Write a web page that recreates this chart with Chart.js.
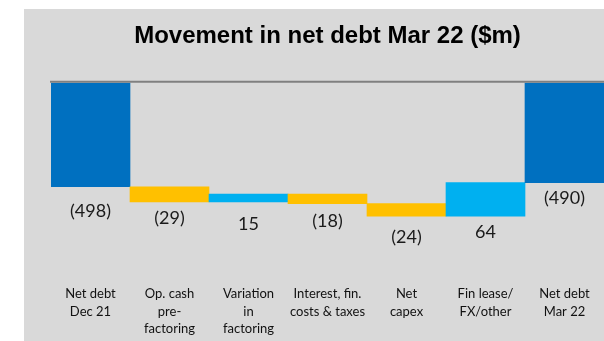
<!DOCTYPE html>
<html>
<head>
<meta charset="utf-8">
<script src="https://cdn.jsdelivr.net/npm/chart.js@4/dist/chart.umd.min.js"></script>
<style>
  html, body { margin: 0; padding: 0; background: #fff; }
  #wrap { width: 604px; height: 341px; }
</style>
</head>
<body>
<div id="wrap"><canvas id="chart" width="604" height="341"></canvas></div>
<script>
// categories (multi-line labels)
const categories = [
    ['Net debt', 'Dec 21'],
    ['Op. cash', 'pre-', 'factoring'],
    ['Variation', 'in', 'factoring'],
    ['Interest, fin.', 'costs & taxes'],
    ['Net', 'capex'],
    ['Fin lease/', 'FX/other'],
    ['Net debt', 'Mar 22']
];
// $m, cash view (negative = debt)
const openingDebt = -498;
const movements = [-29, 15, -18, -24, 64];
const closingDebt = -490;

// visible window of the (broken) value axis
const axisTop = -300;
const axisBottom = -680;

const COL_TOTAL = '#0070C0';
const COL_NEG = '#FFC000';
const COL_POS = '#00B0F0';

// build waterfall
const floats = [[0, openingDebt]];
const shown = [openingDebt];
const colors = [COL_TOTAL];
let running = openingDebt;
movements.forEach(m => {
    floats.push([running, running + m]);
    running += m;
    shown.push(m);
    colors.push(m < 0 ? COL_NEG : COL_POS);
});
floats.push([0, closingDebt]);
shown.push(closingDebt);
colors.push(COL_TOTAL);

// label distance below each bar's lower edge
const labelNudge = [24, 16, 22, 18, 21, 16, 16];

const fmt = v => v < 0 ? '(' + (-v) + ')' : String(v);

const panelBg = {
    id: 'panelBg',
    beforeDraw(chart) {
        const c = chart.ctx;
        c.save();
        c.fillStyle = '#ffffff';
        c.fillRect(0, 0, chart.width, chart.height);
        c.fillStyle = '#D9D9D9';
        c.fillRect(24, 9, chart.width - 24, chart.height - 9);
        c.restore();
    }
};

const topLineAndLabels = {
    id: 'topLineAndLabels',
    afterDatasetsDraw(chart) {
        const c = chart.ctx;
        const area = chart.chartArea;
        c.save();
        c.strokeStyle = '#808080';
        c.lineWidth = 2;
        c.beginPath();
        c.moveTo(area.left - 1, area.top - 1);
        c.lineTo(area.right, area.top - 1);
        c.stroke();

        c.fillStyle = '#1a1a1a';
        c.font = '18px Lato';
        c.textAlign = 'center';
        c.textBaseline = 'middle';
        chart.getDatasetMeta(0).data.forEach((bar, i) => {
            const lower = Math.max(bar.y, bar.base);
            c.fillText(fmt(shown[i]), bar.x, lower + labelNudge[i]);
        });
        c.restore();
    }
};

new Chart(document.getElementById('chart'), {
    type: 'bar',
    data: {
        labels: categories,
        datasets: [{
            data: floats,
            backgroundColor: colors,
            borderWidth: 0,
            barPercentage: 1,
            categoryPercentage: 1,
            clip: 0
        }]
    },
    options: {
        responsive: false,
        animation: false,
        layout: { padding: { left: 51, right: 0, top: 0, bottom: 0 } },
        plugins: {
            legend: { display: false },
            tooltip: { enabled: false },
            title: {
                display: true,
                text: 'Movement in net debt Mar 22 ($m)',
                color: '#000',
                font: { family: 'Liberation Sans', size: 24, weight: 'bold' },
                padding: { top: 22, bottom: 32 }
            }
        },
        scales: {
            x: {
                grid: { display: false, drawTicks: false },
                border: { display: false },
                ticks: {
                    color: '#111',
                    font: { family: 'Lato', size: 13, lineHeight: 1.35 },
                    padding: 3,
                    maxRotation: 0,
                    autoSkip: false
                }
            },
            y: {
                display: false,
                min: axisBottom,
                max: axisTop
            }
        }
    },
    plugins: [panelBg, topLineAndLabels]
});
</script>
</body>
</html>
